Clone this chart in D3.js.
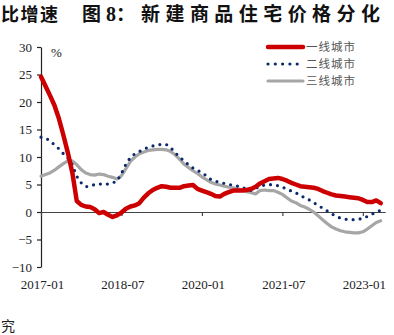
<!DOCTYPE html>
<html>
<head>
<meta charset="utf-8">
<script src="https://cdn.jsdelivr.net/npm/d3@7"></script>
<style>
  html, body { margin: 0; padding: 0; background: #fff; }
  svg { display: block; }
</style>
</head>
<body>
<svg id="chart" width="394" height="335"></svg>
<script>
// ---- data ----
const startMonth = "2017-01";
const endMonth = "2023-05";
const seriesNames = ["一线城市", "二线城市", "三线城市"];
const xTickLabels = ["2017-01", "2018-07", "2020-01", "2021-07", "2023-01"];
const yTicks = [-10, -5, 0, 5, 10, 15, 20, 25, 30];

const tier1 = [24.6, 22.9, 21.2, 19.4, 17.0, 14.0, 10.8, 7.2, 2.0, 1.3,
  1.0, 0.9, 0.5, -0.2, 0.0, -0.5, -0.9, -0.6, -0.1, 0.6,
  1.0, 1.2, 1.6, 2.6, 3.4, 4.0, 4.4, 4.7, 4.6, 4.4,
  4.4, 4.4, 4.7, 4.8, 4.9, 4.2, 3.9, 3.6, 3.3, 2.9,
  2.8, 3.3, 3.6, 3.9, 3.9, 3.9, 4.0, 4.2, 4.6, 5.2,
  5.6, 6.0, 6.1, 6.2, 6.0, 5.7, 5.3, 5.0, 4.7, 4.6,
  4.5, 4.4, 4.2, 3.8, 3.5, 3.2, 3.0, 2.9, 2.8, 2.7,
  2.6, 2.5, 2.2, 1.8, 1.8, 2.1, 1.6];
const tier2 = [13.6, 13.4, 13.0, 12.2, 11.5, 10.6, 9.8, 8.6, 6.5, 5.3,
  4.6, 4.7, 5.0, 5.1, 5.0, 5.1, 5.3, 5.6, 7.0, 8.7,
  9.9, 10.6, 11.0, 11.4, 11.8, 12.0, 12.2, 12.3, 12.3, 11.7,
  10.8, 10.0, 9.3, 8.6, 8.0, 7.6, 7.1, 6.6, 5.9, 5.6,
  5.4, 5.2, 5.0, 4.9, 4.7, 4.5, 4.2, 3.9, 4.3, 4.7,
  4.9, 5.0, 4.9, 4.8, 4.5, 4.2, 3.8, 3.5, 3.0, 2.6,
  2.2, 1.7, 1.2, 0.7, 0.2, -0.3, -0.8, -1.1, -1.3, -1.4,
  -1.4, -1.3, -1.2, -0.8, -0.4, 0.0, 0.3];
const tier3 = [6.5, 6.8, 7.1, 7.6, 8.2, 8.8, 9.3, 9.3, 8.6, 7.7,
  7.1, 6.8, 6.7, 6.9, 6.8, 6.5, 6.3, 6.0, 6.6, 7.9,
  9.2, 10.0, 10.6, 10.9, 11.2, 11.3, 11.4, 11.4, 11.3, 11.0,
  10.4, 9.6, 8.7, 8.1, 7.5, 7.0, 6.4, 5.9, 5.4, 5.1,
  4.9, 4.7, 4.5, 4.4, 4.2, 4.0, 3.7, 3.5, 3.3, 3.9,
  4.0, 3.9, 3.9, 3.6, 3.2, 2.6, 2.0, 1.7, 1.2, 0.9,
  0.5, 0.0, -0.7, -1.4, -2.1, -2.7, -3.1, -3.4, -3.6, -3.7,
  -3.8, -3.8, -3.6, -3.1, -2.5, -1.9, -1.6];

// ---- scales ----
const parse = d3.timeParse("%Y-%m");
const fmt = d3.timeFormat("%Y-%m");
const months = d3.timeMonth.range(parse(startMonth), d3.timeMonth.offset(parse(endMonth), 1));
const monthIndex = d3.scaleOrdinal().domain(months.map(fmt)).range(d3.range(months.length));

const x = d3.scaleLinear().domain([0, months.length]).range([41, 385.2]);
const y = d3.scaleLinear().domain([-10, 30]).range([267, 47]);

const svg = d3.select("#chart");
const serif = "'Liberation Serif', 'Times New Roman', serif";
const cjk = "'Noto Sans CJK SC', sans-serif";

// ---- title ----
svg.append("text").attr("x", 1).attr("y", 21)
  .attr("font-family", cjk).attr("font-weight", "bold").attr("font-size", 18)
  .attr("letter-spacing", 1.5).attr("fill", "#111").text("比增速");
svg.append("text").attr("x", 82).attr("y", 21)
  .attr("font-family", cjk).attr("font-weight", "bold").attr("font-size", 19)
  .attr("fill", "#111").text("图");
svg.append("text").attr("x", 106).attr("y", 21)
  .attr("font-family", serif).attr("font-weight", "bold").attr("font-size", 20)
  .attr("fill", "#111").text("8");
svg.append("text").attr("x", 116).attr("y", 21)
  .attr("font-family", cjk).attr("font-weight", "bold").attr("font-size", 19)
  .attr("fill", "#111").text("：");
svg.append("text").attr("x", 141).attr("y", 21)
  .attr("font-family", cjk).attr("font-weight", "bold").attr("font-size", 19)
  .attr("textLength", 239).attr("lengthAdjust", "spacing")
  .attr("fill", "#111").text("新建商品住宅价格分化");

// bottom-left character from adjacent text
svg.append("text").attr("x", 1).attr("y", 331)
  .attr("font-family", cjk).attr("font-size", 14).attr("fill", "#222").text("究");

// ---- axes ----
const yAxis = d3.axisLeft(y).tickValues(yTicks).tickSize(4).tickSizeOuter(0).tickPadding(5);
const gy = svg.append("g").attr("transform", `translate(${x(0)},0)`).call(yAxis);
gy.select(".domain").attr("stroke", "#222").attr("stroke-width", 1.2);
gy.selectAll(".tick line").attr("stroke", "#222").attr("stroke-width", 1.2);
gy.selectAll(".tick text").attr("font-family", serif).attr("font-size", 13).attr("fill", "#222");

const xTickIdx = xTickLabels.map(d => monthIndex(d));
const xAxis = d3.axisBottom(x).tickValues(xTickIdx).tickSize(4).tickSizeOuter(0).tickFormat("");
const gx = svg.append("g").attr("transform", `translate(0,${y(0)})`).call(xAxis);
gx.select(".domain").attr("stroke", "#444").attr("stroke-width", 1.2);
gx.selectAll(".tick line").attr("stroke", "#444").attr("stroke-width", 1.2);

svg.append("g").selectAll("text").data(xTickLabels).join("text")
  .attr("x", d => x(monthIndex(d)) + 1.5)
  .attr("y", 289)
  .attr("text-anchor", "middle")
  .attr("font-family", serif).attr("font-size", 13).attr("fill", "#222")
  .text(d => d);

svg.append("text").attr("x", 51).attr("y", 57)
  .attr("font-family", serif).attr("font-size", 13).attr("fill", "#222").text("%");

// ---- lines ----
const line = d3.line().x((d, i) => x(i)).y(d => y(d)).curve(d3.curveLinear);

const styles = [
  { data: tier3, color: "#a6a6a6", width: 3.2, dash: null },
  { data: tier2, color: "#0b2a6b", width: 3.2, dash: "0 7" },
  { data: tier1, color: "#cc0000", width: 4.5, dash: null }
];
styles.forEach(s => {
  svg.append("path").datum(s.data)
    .attr("d", line)
    .attr("fill", "none")
    .attr("stroke", s.color)
    .attr("stroke-width", s.width)
    .attr("stroke-linecap", "round")
    .attr("stroke-linejoin", "round")
    .attr("stroke-dasharray", s.dash);
});

// ---- legend ----
const legendItems = [
  { name: seriesNames[0], color: "#cc0000", width: 4.5, dash: null },
  { name: seriesNames[1], color: "#0b2a6b", width: 3.2, dash: "0 7.3" },
  { name: seriesNames[2], color: "#a6a6a6", width: 3.2, dash: null }
];
const lg = svg.append("g");
legendItems.forEach((it, i) => {
  const cy = 47 + i * 17;
  lg.append("line").attr("x1", 268).attr("x2", 303).attr("y1", cy).attr("y2", cy)
    .attr("stroke", it.color).attr("stroke-width", it.width)
    .attr("stroke-linecap", "round").attr("stroke-dasharray", it.dash);
  lg.append("text").attr("x", 306).attr("y", cy + 4.2)
    .attr("font-family", cjk).attr("font-size", 11.5).attr("letter-spacing", 1)
    .attr("fill", "#555")
    .text(it.name);
});
</script>
</body>
</html>
